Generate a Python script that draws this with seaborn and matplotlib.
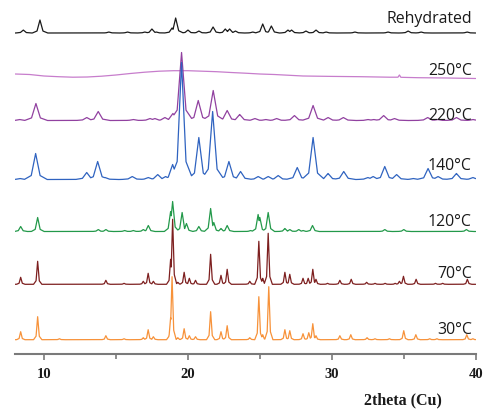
import numpy as np
import pandas as pd
import matplotlib
matplotlib.use("Agg")
import matplotlib.pyplot as plt
import seaborn as sns

# ---- diffraction data: peak positions (2theta, deg) and heights (arb. units) ----
rehydrated_pos = [8.56, 9.72, 14.5, 15.8, 17.0, 17.5, 17.8, 18.9, 19.15, 20.0, 20.76, 21.75,
                  22.6, 22.9, 23.3, 24.5, 25.2, 25.8, 26.95, 27.2, 28.2, 28.9, 29.6, 31.6,
                  33.9, 35.3, 36.2, 39.4]
rehydrated_int = [3, 13, 1, 1, 1, 4, 1, 5, 15, 3, 2, 6,
                  4, 4, 2, 1, 9, 7, 3, 3, 2, 3, 1, 1,
                  1, 2, 1, 1]

# amorphous hump of the 250 °C pattern
t250_x = [8, 9, 10, 11, 12, 13, 14, 15, 16, 17, 18, 19, 20, 21, 22, 23, 24, 25, 26,
          28, 30, 32, 34, 34.6, 34.7, 34.8, 36, 38, 40]
t250_y = [5, 4.5, 3, 2.3, 1.8, 2, 2.8, 4, 5.5, 6.8, 7.8, 8.3, 8.3, 7.8, 7.3, 6.5, 5.8, 5, 4.5,
          3, 2.6, 2.3, 1.8, 1.8, 4, 1.7, 1.3, 1, 0.5]

t220_pos = [8.3, 9.44, 12.97, 13.77, 16.2, 17.36, 17.7, 18.4, 18.96, 19.56, 20.72, 21.76,
            22.73, 23.6, 24.65, 25.4, 26.16, 27.4, 28.7, 29.74, 30.8, 32.5, 32.9, 33.6,
            34.35, 36.66, 37.35, 38.66, 39.8]
t220_int = [1, 17, 3, 9, 1, 2, 2, 3, 7, 68, 20, 30,
            10, 6, 2, 1, 2, 5, 15, 3, 3, 1, 1, 5,
            2, 3, 1, 3, 1]

t140_pos = [8.33, 9.42, 12.97, 13.73, 14.24, 16.13, 17.24, 17.9, 18.45, 18.94, 19.56, 20.76,
            21.72, 22.85, 23.66, 24.88, 25.58, 26.27, 27.6, 28.7, 29.74, 30.83, 32.5, 32.87,
            33.68, 34.5, 35.65, 36.69, 37.38, 38.66, 39.8]
t140_int = [1, 26, 7, 18, 2, 3, 2, 5, 3, 15, 117, 42,
            68, 18, 8, 3, 3, 4, 12, 42, 6, 8, 2, 3,
            13, 5, 1, 11, 3, 6, 2]

t120_pos = [8.38, 9.56, 13.77, 14.3, 15.6, 16.2, 16.9, 17.25, 18.8, 18.94, 19.6, 19.9,
            20.76, 21.58, 21.8, 22.3, 22.73, 24.35, 24.88, 25.0, 25.58, 26.74, 27.08, 27.7,
            28.0, 28.66, 33.68, 35.0, 39.35]
t120_int = [5, 14, 2, 2, 1, 1, 2, 6, 20, 30, 19, 8,
            5, 23, 9, 3, 6, 1, 17, 14, 19, 3, 2, 2,
            1, 6, 2, 2, 2]

t70_pos = [8.38, 9.56, 14.3, 15.56, 16.9, 17.24, 17.6, 18.8, 18.94, 19.3, 19.74, 20.1,
           20.53, 21.58, 22.3, 22.73, 24.3, 24.93, 25.2, 25.58, 26.74, 27.08, 28.0, 28.36,
           28.68, 28.9, 29.7, 30.56, 31.35, 32.42, 33.0, 33.7, 34.4, 34.7, 34.98, 35.86,
           37.2, 37.7, 39.42]
t70_int = [7, 23, 4, 1, 3, 11, 3, 25, 65, 2, 12, 6,
           4, 30, 9, 15, 3, 43, 6, 51, 12, 10, 6, 6,
           15, 5, 1, 4, 5, 2, 1, 1, 1, 3, 8, 5,
           1, 1, 5]

t30_pos = [8.38, 9.56, 11.07, 14.3, 15.56, 16.9, 17.24, 17.6, 18.8, 18.9, 19.3, 19.74,
           20.1, 20.53, 21.58, 22.3, 22.73, 24.3, 24.93, 25.2, 25.62, 26.74, 27.08, 28.0,
           28.4, 28.68, 28.9, 30.56, 31.32, 32.45, 33.0, 34.0, 35.0, 35.84, 36.8, 37.3,
           39.38, 39.8]
t30_int = [8, 23, 1, 4, 1, 2, 10, 3, 22, 63, 2, 11,
           4, 3, 28, 8, 14, 2, 43, 5, 53, 10, 9, 6,
           7, 16, 4, 4, 5, 2, 1, 1, 9, 5, 1, 1,
           5, 1]

labels = ["Rehydrated", "250°C", "220°C", "140°C", "120°C", "70°C", "30°C"]
colors = ["#1a1a1a", "#c77dcc", "#9141a0", "#2f63c0", "#23994a", "#7d1f1f", "#f7923a"]
offsets = [321, 275, 233.5, 174.5, 122.5, 69.7, 14.3]
label_y = [331, 279, 234, 184, 128, 76, 20]
peak_halfwidth = [0.24, None, 0.36, 0.36, 0.2, 0.13, 0.13]

grid = np.linspace(8, 40, 6401)


def peak_profile(pos, heights, hw):
    """Piecewise-linear pattern: each reflection drawn as a sharp peak with a low, wider foot."""
    y = np.zeros_like(grid)
    for p, h in zip(pos, heights):
        core = h * np.clip(1 - np.abs(grid - p) / hw, 0, None)
        foot = 0.25 * h * np.clip(1 - np.abs(grid - p) / (2.2 * hw), 0, None)
        y = np.maximum(y, np.maximum(core, foot))
    return y


profiles = [
    (grid, peak_profile(rehydrated_pos, rehydrated_int, peak_halfwidth[0])),
    (np.array(t250_x, float), np.array(t250_y, float)),
    (grid, peak_profile(t220_pos, t220_int, peak_halfwidth[2])),
    (grid, peak_profile(t140_pos, t140_int, peak_halfwidth[3])),
    (grid, peak_profile(t120_pos, t120_int, peak_halfwidth[4])),
    (grid, peak_profile(t70_pos, t70_int, peak_halfwidth[5])),
    (grid, peak_profile(t30_pos, t30_int, peak_halfwidth[6])),
]

sns.set_style("white")
plt.rcParams["font.family"] = ["DejaVu Sans"]

fig = plt.figure(figsize=(4.83, 4.09), dpi=100)
ax = fig.add_axes([15.2 / 483, 1 - 354 / 409, (475.7 - 15.2) / 483, 354 / 409])

for (x, y), off, col in zip(profiles, offsets, colors):
    df = pd.DataFrame({"two_theta": x, "intensity": y + off})
    sns.lineplot(data=df, x="two_theta", y="intensity", ax=ax, color=col,
                 linewidth=0.9, estimator=None, errorbar=None, sort=False)

for lab, ly in zip(labels, label_y):
    ax.text(39.72, ly, lab, ha="right", va="baseline", fontsize=11.4,
            family=["Open Sans", "DejaVu Sans"], color="#1a1a1a")

ax.set_xlim(8, 40)
ax.set_ylim(0, 354)
ax.set_yticks([])
ax.set_ylabel("")
ax.set_xlabel("")
ax.set_xticks([10, 20, 30, 40])
ax.set_xticks([15, 25, 35], minor=True)
for s in ["top", "left", "right"]:
    ax.spines[s].set_visible(False)
ax.spines["bottom"].set_color("#7a7a7a")
ax.spines["bottom"].set_linewidth(1.5)
ax.tick_params(axis="x", which="major", direction="out", length=4, width=1.2,
               color="#7a7a7a", pad=6, bottom=True)
ax.tick_params(axis="x", which="minor", direction="out", length=3.5, width=1.2,
               color="#7a7a7a", bottom=True)
for t in ax.get_xticklabels():
    t.set_fontfamily("Liberation Serif")
    t.set_fontweight("bold")
    t.set_fontsize(10.5)
    t.set_color("#1a1a1a")

fig.text(403 / 483, 1 - 400 / 409, "2theta (Cu)", ha="center", va="center",
         family="Liberation Serif", fontweight="bold", fontsize=11.5, color="#1a1a1a")

fig.savefig("out.png", dpi=100)
